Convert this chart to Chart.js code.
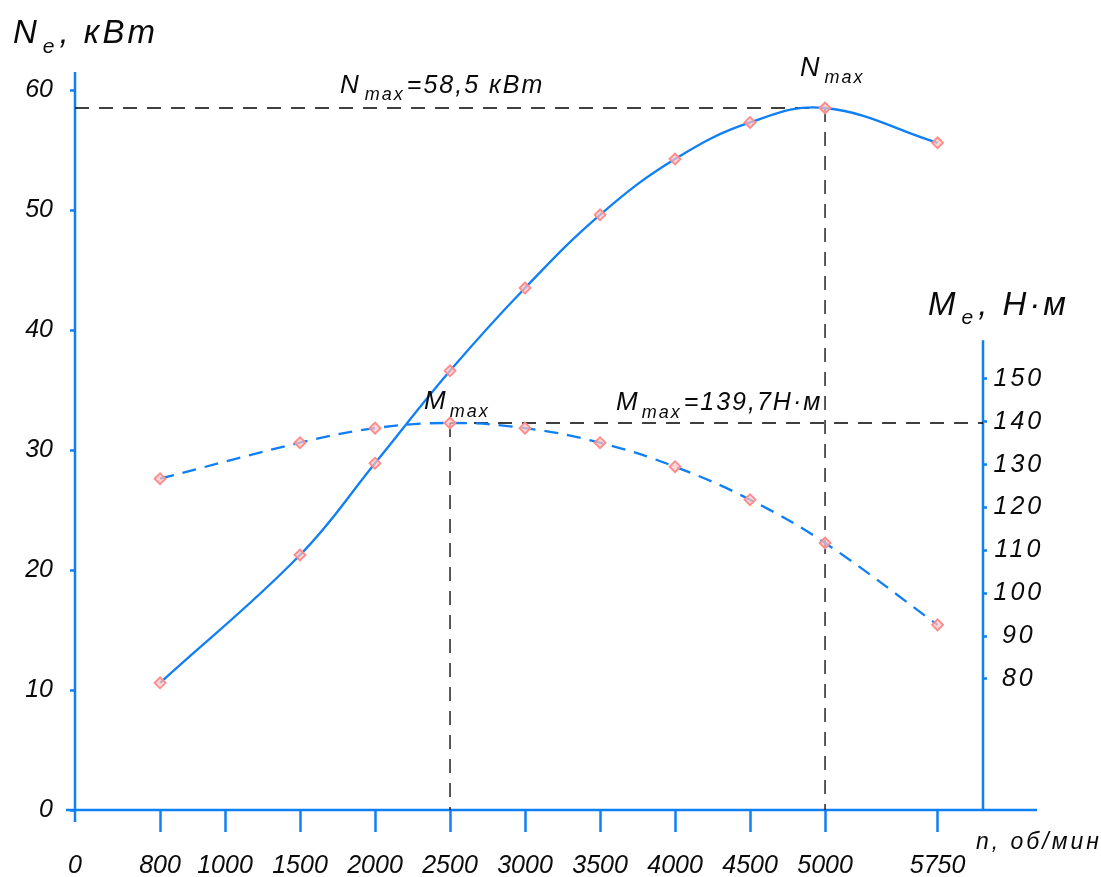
<!DOCTYPE html>
<html>
<head>
<meta charset="utf-8">
<script src="https://cdn.jsdelivr.net/npm/chart.js@4.4.1/dist/chart.umd.min.js"></script>
<style>
  html, body { margin: 0; padding: 0; background: #fff; }
  #myChart { display: block; }
</style>
</head>
<body>
<canvas id="myChart" width="1101" height="877"></canvas>
<script>
// Внешняя скоростная характеристика двигателя
var rpm = [800, 1500, 2000, 2500, 3000, 3500, 4000, 4500, 5000, 5750];
var powerKw = [10.6, 21.25, 28.9, 36.6, 43.5, 49.6, 54.25, 57.3, 58.5, 55.6];
var torqueNm = [126.7, 135.1, 138.5, 139.7, 138.5, 135.1, 129.5, 121.8, 111.7, 92.6];

var rpmTicks = [0, 800, 1000, 1500, 2000, 2500, 3000, 3500, 4000, 4500, 5000, 5750];
var powerTicks = [0, 10, 20, 30, 40, 50, 60];
var torqueTicks = [80, 90, 100, 110, 120, 130, 140, 150];

var nMax = { rpm: 5000, value: 58.5 };
var mMax = { rpm: 2500, value: 139.7 };

var FONT = "'Liberation Sans', Arial, sans-serif";
var BLUE = "#0f7ff5";
var INK = "#0a0a0a";

// on the drawing the 800 tick sits left of its linear place, the rest is linear
function warpRpm(v) {
  if (v >= 1000) return v;
  if (v <= 800) return (v * 567) / 800;
  return 567 + ((v - 800) * (1000 - 567)) / 200;
}
function unwarpRpm(w) {
  if (w >= 1000) return w;
  if (w <= 567) return (w * 800) / 567;
  return 800 + ((w - 567) * 200) / (1000 - 567);
}

class WarpedScale extends Chart.LinearScale {
  getPixelForValue(value) {
    return super.getPixelForValue(value === null ? null : warpRpm(value));
  }
  getValueForPixel(pixel) {
    return unwarpRpm(super.getValueForPixel(pixel));
  }
}
WarpedScale.id = "warpedLinear";
WarpedScale.defaults = Chart.LinearScale.defaults;

// torque labels are spaced out a bit on the picture
class SpacedScale extends Chart.LinearScale {
  drawLabels(area) {
    this.ctx.save();
    this.ctx.letterSpacing = "3px";
    super.drawLabels(area);
    this.ctx.restore();
  }
}
SpacedScale.id = "spacedLinear";
SpacedScale.defaults = Chart.LinearScale.defaults;

Chart.register(WarpedScale, SpacedScale);

function line(ctx, x1, y1, x2, y2) {
  ctx.beginPath();
  ctx.moveTo(x1, y1);
  ctx.lineTo(x2, y2);
  ctx.stroke();
}

// parts: [text, size, dy, gapBefore]
function drawParts(ctx, x, y, spacing, parts) {
  ctx.letterSpacing = spacing + "px";
  parts.forEach(function (p) {
    x += p[3] || 0;
    ctx.font = "italic " + p[1] + "px " + FONT;
    ctx.fillText(p[0], x, y + (p[2] || 0));
    x += ctx.measureText(p[0]).width;
  });
}

var refLines = {
  id: "refLines",
  beforeDatasetsDraw: function (chart) {
    var ctx = chart.ctx;
    var a = chart.chartArea;
    var xs = chart.scales.x;
    var yP = chart.scales.yP;
    var yT = chart.scales.yT;
    ctx.save();
    // оси
    ctx.strokeStyle = BLUE;
    ctx.lineWidth = 2.5;
    line(ctx, a.left, a.top, a.left, a.bottom + 12);
    line(ctx, a.left - 9, a.bottom, a.right + 54, a.bottom);
    line(ctx, a.right, yT.getPixelForValue(159), a.right, a.bottom);
    // пунктир максимумов
    ctx.strokeStyle = "#000";
    ctx.lineWidth = 1.3;
    ctx.setLineDash([14, 10]);
    var nx = xs.getPixelForValue(nMax.rpm);
    var ny = yP.getPixelForValue(nMax.value);
    line(ctx, a.left, ny, nx, ny);
    line(ctx, nx, ny, nx, a.bottom);
    var mx = xs.getPixelForValue(mMax.rpm);
    var my = yT.getPixelForValue(mMax.value);
    line(ctx, mx, my, a.right, my);
    line(ctx, mx, my, mx, a.bottom);
    ctx.restore();
  },
  afterDraw: function (chart) {
    var ctx = chart.ctx;
    var a = chart.chartArea;
    var xs = chart.scales.x;
    var yP = chart.scales.yP;
    var yT = chart.scales.yT;
    var nx = xs.getPixelForValue(nMax.rpm);
    var ny = yP.getPixelForValue(nMax.value);
    var mx = xs.getPixelForValue(mMax.rpm);
    var my = yT.getPixelForValue(mMax.value);
    ctx.save();
    ctx.fillStyle = INK;
    ctx.textAlign = "left";
    ctx.textBaseline = "alphabetic";

    // подписи осей
    drawParts(ctx, 13, 43, 3, [["N", 33], ["e", 21, 10, 3], [", кВт", 33, 0, 2]]);
    drawParts(ctx, a.right - 55, 315, 3, [["M", 33], ["e", 21, 9, 3], [", Н·м", 33, 0, 2]]);
    drawParts(ctx, a.right - 7, a.bottom + 39, 3, [["n, об/мин", 23]]);

    // максимумы
    var nText = "=" + String(nMax.value).replace(".", ",") + " кВт";
    var mText = "=" + String(mMax.value).replace(".", ",") + "Н·м";
    drawParts(ctx, a.left + 265, ny - 15, 2, [["N", 26], ["max", 18, 7, 4], [nText, 25, 0, 2]]);
    drawParts(ctx, nx - 25, ny - 32, 2, [["N", 27], ["max", 18, 7, 3]]);
    drawParts(ctx, mx - 26, my - 14, 2, [["M", 26], ["max", 18, 8, 2]]);
    drawParts(ctx, mx + 166, my - 13, 2, [["M", 26], ["max", 18, 8, 2], [mText, 25, 0, 2]]);
    ctx.restore();
  },
};

Chart.defaults.font.family = FONT;
Chart.defaults.color = INK;

var tickFont = { size: 25, style: "italic" };
var pointStyle = {
  pointStyle: "rectRot",
  pointRadius: 5.5,
  pointBorderWidth: 1.8,
  pointBorderColor: "#ff8a8a",
  pointBackgroundColor: "rgba(255,195,195,0.7)",
};

var ctx = document.getElementById("myChart").getContext("2d");
var myChart = new Chart(ctx, {
  type: "line",
  data: {
    datasets: [
      Object.assign({
        label: "Ne",
        data: rpm.map(function (r, i) { return { x: r, y: powerKw[i] }; }),
        yAxisID: "yP",
        borderColor: BLUE,
        borderWidth: 2.3,
        tension: 0.4,
        fill: false,
      }, pointStyle),
      Object.assign({
        label: "Me",
        data: rpm.map(function (r, i) { return { x: r, y: torqueNm[i] }; }),
        yAxisID: "yT",
        borderColor: BLUE,
        borderWidth: 2.3,
        borderDash: [14, 9],
        tension: 0.4,
        fill: false,
      }, pointStyle),
    ],
  },
  options: {
    responsive: false,
    animation: false,
    devicePixelRatio: 1,
    layout: { padding: { top: 72, left: 0, right: 0, bottom: 0 } },
    plugins: {
      legend: { display: false },
      tooltip: { enabled: false },
    },
    scales: {
      x: {
        type: "warpedLinear",
        position: "bottom",
        min: 0,
        max: 6053,
        bounds: "data",
        afterBuildTicks: function (s) {
          s.ticks = rpmTicks.map(function (v) { return { value: v }; });
        },
        afterFit: function (s) { s.height = 67; },
        ticks: {
          autoSkip: false,
          maxRotation: 0,
          minRotation: 0,
          padding: 19,
          color: INK,
          font: tickFont,
          callback: function (v) { return String(v); },
        },
        grid: {
          drawOnChartArea: false,
          drawTicks: true,
          tickLength: 22,
          tickWidth: 2.5,
          tickColor: function (c) {
            return c.tick && c.tick.value === 0 ? "rgba(0,0,0,0)" : BLUE;
          },
        },
        border: { display: false },
      },
      yP: {
        type: "linear",
        position: "left",
        min: 0,
        max: 61.5,
        bounds: "data",
        afterBuildTicks: function (s) {
          s.ticks = powerTicks.map(function (v) { return { value: v }; });
        },
        afterFit: function (s) { s.width = 75; },
        ticks: {
          padding: 17,
          color: INK,
          font: tickFont,
          callback: function (v) { return String(v); },
        },
        grid: {
          drawOnChartArea: false,
          drawTicks: true,
          tickLength: 5,
          tickWidth: 2.5,
          tickColor: BLUE,
        },
        border: { display: false },
      },
      yT: {
        type: "spacedLinear",
        position: "right",
        min: 49.4,
        max: 221.6,
        bounds: "data",
        afterBuildTicks: function (s) {
          s.ticks = torqueTicks.map(function (v) { return { value: v }; });
        },
        afterFit: function (s) { s.width = 118; },
        ticks: {
          padding: 11,
          crossAlign: "center",
          color: INK,
          font: tickFont,
          callback: function (v) { return String(v); },
        },
        grid: {
          drawOnChartArea: false,
          drawTicks: true,
          tickLength: 4,
          tickWidth: 2.5,
          tickColor: BLUE,
        },
        border: { display: false },
      },
    },
  },
  plugins: [refLines],
});
</script>
</body>
</html>
